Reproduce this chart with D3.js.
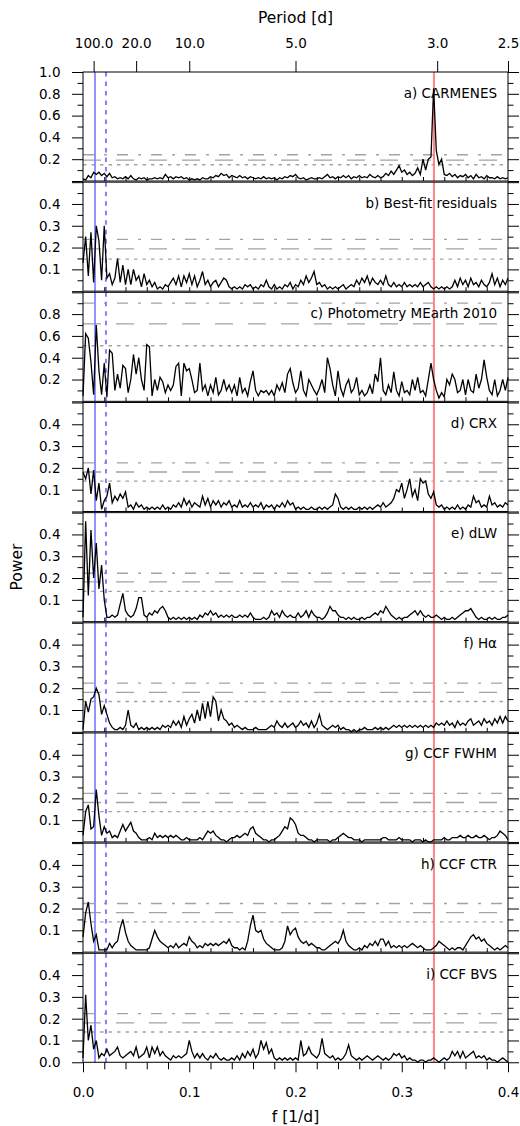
<!DOCTYPE html>
<html>
<head>
<meta charset="utf-8">
<script src="https://cdn.jsdelivr.net/npm/d3@7"></script>
<style>
  body { margin: 0; background: #fff; }
  svg { display: block; }
  text { font-family: "DejaVu Sans", sans-serif; }
  .tick text { font-size: 13.5px; fill: #000; }
</style>
</head>
<body>
<svg id="chart" width="520" height="1126"></svg>
<script>

// frequency grid of the periodograms [1/d]
const fStep = 0.0025
const freq = d3.range(161).map(i => i * fStep)

const panelLabels = ['a) CARMENES', 'b) Best-fit residuals', 'c) Photometry MEarth 2010', 'd) CRX',
                     'e) dLW', 'f) H\u03b1', 'g) CCF FWHM', 'h) CCF CTR', 'i) CCF BVS']
const panelMax = [1.0, 0.5, 1.0, 0.5, 0.5, 0.5, 0.5, 0.5, 0.5]

// false alarm levels: 10%, 1%, 0.1%
const fapLevels = [
    [0.149, 0.192, 0.241],
    [0.147, 0.194, 0.238],
    [0.51, 0.71, 0.90],
    [0.139, 0.181, 0.223],
    [0.139, 0.182, 0.222],
    [0.139, 0.181, 0.223],
    [0.139, 0.181, 0.223],
    [0.139, 0.181, 0.223],
    [0.139, 0.181, 0.223]
]

const yTickLabels = [
    [0.2, 0.4, 0.6, 0.8, 1.0],
    [0.1, 0.2, 0.3, 0.4],
    [0.2, 0.4, 0.6, 0.8],
    [0.1, 0.2, 0.3, 0.4],
    [0.1, 0.2, 0.3, 0.4],
    [0.1, 0.2, 0.3, 0.4],
    [0.1, 0.2, 0.3, 0.4],
    [0.1, 0.2, 0.3, 0.4],
    [0.0, 0.1, 0.2, 0.3, 0.4]
]

const freqTicks = [0.0, 0.1, 0.2, 0.3, 0.4]
const periodTicks = [100, 20, 10, 5, 3, 2.5]

// marked signals
const blueFreq = 0.0113
const blueDotFreq = 0.0216
const redFreq = 0.3303

const powerA = [
 0.02,0.01,0.05,0.03,0.08,0.06,0.08,0.05,0.07,0.04,
 0.07,0.03,0.04,0.02,0.03,0.02,0.04,0.02,0.05,0.02,
 0.01,0.03,0.02,0.03,0.01,0.02,0.02,0.03,0.02,0.03,
 0.02,0.06,0.03,0.04,0.02,0.04,0.03,0.04,0.02,0.03,
 0.01,0.02,0.01,0.02,0.01,0.03,0.02,0.02,0.04,0.03,
 0.05,0.04,0.07,0.05,0.06,0.03,0.05,0.04,0.03,0.05,
 0.03,0.04,0.02,0.04,0.03,0.02,0.03,0.02,0.04,0.02,
 0.03,0.02,0.03,0.01,0.03,0.02,0.04,0.03,0.05,0.04,
 0.06,0.03,0.02,0.03,0.01,0.02,0.03,0.02,0.02,0.03,
 0.02,0.04,0.06,0.03,0.04,0.02,0.04,0.03,0.05,0.03,
 0.05,0.02,0.04,0.03,0.05,0.03,0.04,0.03,0.06,0.04,
 0.03,0.05,0.03,0.04,0.07,0.05,0.09,0.06,0.10,0.14,
 0.08,0.10,0.06,0.08,0.05,0.07,0.12,0.06,0.20,0.10,
 0.20,0.22,0.85,0.28,0.15,0.20,0.06,0.05,0.07,0.04,
 0.06,0.03,0.05,0.04,0.06,0.03,0.05,0.02,0.06,0.03,
 0.04,0.02,0.05,0.03,0.03,0.02,0.04,0.02,0.03,0.02,
 0.03]

const powerB = [
 0.13,0.25,0.07,0.27,0.04,0.30,0.23,0.05,0.30,0.06,
 0.08,0.03,0.06,0.15,0.04,0.12,0.03,0.10,0.03,0.10,
 0.05,0.07,0.02,0.08,0.03,0.05,0.02,0.04,0.01,0.02,
 0.01,0.03,0.02,0.04,0.06,0.03,0.07,0.02,0.07,0.04,
 0.08,0.03,0.07,0.02,0.05,0.09,0.03,0.05,0.02,0.04,
 0.05,0.02,0.04,0.06,0.05,0.02,0.01,0.02,0.01,0.02,
 0.01,0.03,0.02,0.03,0.01,0.02,0.01,0.03,0.02,0.05,
 0.02,0.01,0.03,0.01,0.02,0.01,0.03,0.02,0.04,0.01,
 0.03,0.02,0.05,0.03,0.07,0.04,0.06,0.09,0.03,0.04,
 0.02,0.03,0.01,0.02,0.01,0.02,0.01,0.02,0.03,0.01,
 0.02,0.03,0.02,0.05,0.03,0.06,0.04,0.07,0.03,0.06,
 0.04,0.03,0.05,0.03,0.07,0.03,0.02,0.04,0.02,0.03,
 0.02,0.04,0.02,0.03,0.02,0.03,0.02,0.04,0.02,0.03,
 0.04,0.02,0.01,0.02,0.01,0.02,0.01,0.02,0.01,0.02,
 0.05,0.02,0.06,0.03,0.05,0.02,0.06,0.03,0.04,0.02,
 0.05,0.03,0.02,0.04,0.08,0.03,0.06,0.02,0.05,0.03,
 0.06]

const powerC = [
 0.05,0.62,0.58,0.36,0.06,0.70,0.28,0.06,0.35,0.04,
 0.47,0.44,0.10,0.25,0.12,0.33,0.30,0.08,0.20,0.43,
 0.25,0.40,0.20,0.10,0.52,0.50,0.05,0.20,0.10,0.22,
 0.18,0.08,0.15,0.10,0.15,0.32,0.35,0.05,0.35,0.28,
 0.30,0.20,0.08,0.10,0.35,0.10,0.15,0.05,0.15,0.08,
 0.22,0.06,0.10,0.20,0.10,0.15,0.08,0.15,0.05,0.22,
 0.08,0.12,0.05,0.18,0.28,0.10,0.05,0.10,0.08,0.10,
 0.06,0.10,0.05,0.15,0.10,0.17,0.08,0.25,0.30,0.17,
 0.08,0.12,0.28,0.10,0.05,0.20,0.15,0.10,0.06,0.12,
 0.20,0.08,0.40,0.30,0.15,0.05,0.28,0.12,0.05,0.15,
 0.20,0.08,0.12,0.22,0.06,0.10,0.05,0.08,0.15,0.07,
 0.25,0.18,0.40,0.10,0.06,0.15,0.08,0.27,0.10,0.05,
 0.18,0.08,0.10,0.06,0.20,0.10,0.22,0.08,0.10,0.05,
 0.20,0.35,0.20,0.10,0.03,0.08,0.04,0.20,0.15,0.25,
 0.20,0.08,0.10,0.20,0.06,0.20,0.10,0.08,0.25,0.12,
 0.20,0.38,0.22,0.10,0.06,0.20,0.05,0.10,0.20,0.10,
 0.22]

const powerD = [
 0.18,0.15,0.20,0.08,0.19,0.05,0.13,0.01,0.05,0.07,
 0.13,0.04,0.07,0.05,0.08,0.06,0.09,0.02,0.03,0.01,
 0.04,0.02,0.03,0.01,0.02,0.01,0.02,0.01,0.02,0.01,
 0.03,0.01,0.02,0.01,0.03,0.02,0.04,0.02,0.06,0.03,
 0.05,0.02,0.04,0.03,0.02,0.07,0.03,0.06,0.02,0.05,
 0.03,0.05,0.02,0.04,0.03,0.05,0.02,0.03,0.02,0.05,
 0.02,0.03,0.02,0.04,0.02,0.03,0.02,0.04,0.01,0.03,
 0.02,0.03,0.01,0.03,0.02,0.04,0.02,0.05,0.03,0.04,
 0.01,0.02,0.01,0.02,0.01,0.01,0.02,0.01,0.01,0.02,
 0.01,0.02,0.01,0.02,0.03,0.08,0.06,0.02,0.01,0.02,
 0.01,0.02,0.01,0.01,0.02,0.01,0.02,0.01,0.02,0.01,
 0.02,0.03,0.02,0.04,0.02,0.03,0.04,0.06,0.10,0.09,
 0.13,0.06,0.10,0.15,0.07,0.10,0.05,0.15,0.13,0.14,
 0.08,0.06,0.09,0.03,0.02,0.03,0.01,0.02,0.01,0.02,
 0.01,0.03,0.01,0.02,0.01,0.03,0.02,0.07,0.04,0.05,
 0.02,0.03,0.02,0.07,0.03,0.04,0.02,0.03,0.02,0.04,
 0.03]

const powerE = [
 0.02,0.46,0.12,0.42,0.20,0.36,0.15,0.26,0.10,0.02,
 0.02,0.03,0.02,0.03,0.08,0.13,0.05,0.03,0.02,0.03,
 0.06,0.11,0.11,0.03,0.02,0.04,0.03,0.05,0.04,0.06,
 0.07,0.05,0.02,0.01,0.02,0.01,0.02,0.01,0.02,0.01,
 0.02,0.01,0.02,0.01,0.03,0.02,0.04,0.03,0.05,0.03,
 0.04,0.02,0.03,0.02,0.03,0.02,0.03,0.02,0.02,0.03,
 0.02,0.03,0.02,0.04,0.02,0.01,0.01,0.01,0.02,0.01,
 0.02,0.05,0.03,0.04,0.02,0.05,0.03,0.02,0.03,0.02,
 0.02,0.04,0.02,0.03,0.05,0.02,0.05,0.03,0.02,0.02,
 0.01,0.02,0.04,0.07,0.05,0.05,0.03,0.02,0.02,0.01,
 0.02,0.01,0.02,0.01,0.01,0.02,0.01,0.02,0.02,0.03,
 0.04,0.03,0.05,0.04,0.07,0.05,0.03,0.02,0.01,0.02,
 0.01,0.02,0.02,0.03,0.04,0.05,0.03,0.05,0.03,0.02,
 0.03,0.02,0.02,0.03,0.02,0.01,0.02,0.01,0.01,0.02,
 0.01,0.02,0.03,0.04,0.05,0.05,0.06,0.04,0.02,0.01,
 0.02,0.01,0.01,0.02,0.01,0.02,0.01,0.01,0.02,0.02,
 0.03]

const powerF = [
 0.01,0.14,0.09,0.15,0.16,0.20,0.17,0.08,0.12,0.08,
 0.04,0.02,0.01,0.01,0.02,0.01,0.03,0.10,0.03,0.02,
 0.04,0.01,0.02,0.01,0.02,0.01,0.02,0.01,0.02,0.01,
 0.03,0.02,0.03,0.02,0.05,0.03,0.05,0.02,0.07,0.03,
 0.06,0.08,0.04,0.10,0.05,0.13,0.06,0.14,0.07,0.16,
 0.14,0.05,0.10,0.06,0.05,0.03,0.04,0.02,0.03,0.02,
 0.01,0.02,0.01,0.01,0.01,0.02,0.01,0.01,0.01,0.01,
 0.02,0.03,0.02,0.05,0.03,0.02,0.04,0.02,0.03,0.04,
 0.02,0.03,0.05,0.03,0.04,0.02,0.05,0.02,0.04,0.08,
 0.03,0.02,0.01,0.02,0.03,0.02,0.03,0.01,0.02,0.01,
 0.01,0.00,0.01,0.00,0.01,0.01,0.02,0.01,0.01,0.01,
 0.02,0.01,0.02,0.01,0.02,0.01,0.02,0.03,0.02,0.03,
 0.02,0.03,0.02,0.03,0.02,0.03,0.02,0.03,0.02,0.03,
 0.02,0.03,0.02,0.04,0.03,0.04,0.03,0.05,0.03,0.04,
 0.02,0.05,0.03,0.04,0.03,0.05,0.06,0.03,0.04,0.05,
 0.03,0.06,0.04,0.05,0.03,0.06,0.04,0.07,0.04,0.07,
 0.05]

const powerG = [
 0.03,0.14,0.17,0.06,0.07,0.24,0.12,0.03,0.07,0.04,
 0.05,0.02,0.03,0.02,0.05,0.08,0.05,0.07,0.09,0.05,
 0.04,0.02,0.01,0.01,0.01,0.02,0.01,0.04,0.02,0.03,
 0.02,0.03,0.02,0.03,0.02,0.03,0.02,0.01,0.01,0.02,
 0.01,0.01,0.01,0.01,0.02,0.01,0.03,0.05,0.04,0.05,
 0.03,0.02,0.01,0.01,0.00,0.01,0.02,0.02,0.03,0.02,
 0.03,0.04,0.03,0.06,0.07,0.04,0.03,0.02,0.01,0.01,
 0.00,0.01,0.01,0.02,0.03,0.05,0.07,0.06,0.11,0.10,
 0.08,0.04,0.03,0.03,0.02,0.01,0.01,0.00,0.01,0.01,
 0.01,0.01,0.01,0.00,0.01,0.01,0.02,0.03,0.04,0.03,
 0.02,0.02,0.01,0.01,0.01,0.00,0.01,0.01,0.01,0.01,
 0.01,0.01,0.01,0.02,0.02,0.01,0.01,0.01,0.01,0.02,
 0.01,0.01,0.01,0.01,0.00,0.01,0.01,0.01,0.00,0.01,
 0.00,0.00,0.01,0.01,0.01,0.01,0.02,0.01,0.01,0.02,
 0.02,0.02,0.03,0.02,0.02,0.03,0.02,0.02,0.03,0.02,
 0.02,0.03,0.02,0.01,0.02,0.02,0.03,0.05,0.04,0.03,
 0.01]

const powerH = [
 0.07,0.18,0.23,0.13,0.05,0.08,0.01,0.01,0.01,0.01,
 0.04,0.02,0.04,0.05,0.11,0.15,0.09,0.05,0.03,0.02,
 0.01,0.01,0.01,0.01,0.01,0.02,0.06,0.10,0.07,0.05,
 0.04,0.03,0.02,0.03,0.02,0.04,0.02,0.03,0.04,0.03,
 0.07,0.05,0.04,0.02,0.03,0.02,0.04,0.03,0.04,0.03,
 0.04,0.03,0.04,0.05,0.04,0.06,0.03,0.02,0.02,0.01,
 0.02,0.01,0.05,0.12,0.17,0.10,0.09,0.10,0.06,0.04,
 0.03,0.02,0.01,0.01,0.01,0.02,0.05,0.12,0.08,0.10,
 0.11,0.07,0.05,0.04,0.05,0.03,0.04,0.03,0.02,0.02,
 0.01,0.01,0.02,0.03,0.04,0.05,0.04,0.06,0.10,0.05,
 0.03,0.02,0.01,0.01,0.02,0.01,0.03,0.02,0.04,0.03,
 0.05,0.03,0.06,0.06,0.03,0.05,0.02,0.03,0.02,0.03,
 0.02,0.03,0.02,0.03,0.04,0.03,0.02,0.03,0.02,0.01,
 0.01,0.01,0.02,0.03,0.05,0.04,0.03,0.02,0.01,0.02,
 0.01,0.02,0.02,0.01,0.03,0.05,0.07,0.08,0.06,0.07,
 0.05,0.06,0.04,0.03,0.02,0.01,0.02,0.01,0.02,0.03,
 0.02]

const powerI = [
 0.02,0.31,0.10,0.17,0.06,0.10,0.02,0.04,0.03,0.06,
 0.03,0.04,0.05,0.07,0.03,0.02,0.03,0.04,0.05,0.03,
 0.07,0.02,0.03,0.04,0.07,0.02,0.07,0.04,0.07,0.03,
 0.05,0.03,0.02,0.01,0.03,0.02,0.03,0.02,0.03,0.04,
 0.10,0.05,0.02,0.04,0.02,0.04,0.02,0.01,0.03,0.02,
 0.04,0.02,0.01,0.02,0.01,0.01,0.02,0.01,0.03,0.01,
 0.04,0.02,0.05,0.03,0.06,0.02,0.04,0.10,0.06,0.09,
 0.04,0.06,0.02,0.01,0.02,0.01,0.02,0.01,0.02,0.01,
 0.02,0.01,0.10,0.03,0.04,0.07,0.04,0.03,0.02,0.04,
 0.11,0.04,0.03,0.02,0.03,0.01,0.02,0.01,0.02,0.04,
 0.08,0.03,0.02,0.01,0.02,0.01,0.02,0.03,0.02,0.01,
 0.02,0.03,0.02,0.01,0.02,0.01,0.02,0.04,0.03,0.04,
 0.02,0.03,0.01,0.02,0.01,0.01,0.00,0.01,0.01,0.00,
 0.01,0.01,0.02,0.01,0.00,0.01,0.02,0.01,0.02,0.05,
 0.03,0.05,0.02,0.05,0.02,0.03,0.04,0.05,0.02,0.03,
 0.02,0.03,0.01,0.02,0.01,0.01,0.00,0.01,0.02,0.01,
 0.00]

const powers = [powerA, powerB, powerC, powerD, powerE, powerF, powerG, powerH, powerI]

// layout
const top0 = 72
const panelStep = 110.16
const panelH = 109
const xLeft = 83, xRight = 508
const bottomY = top0 + 8 * panelStep + panelH

const fapDash = ['3.5,5', '18,15', '11,10,3,10']

const svg = d3.select('#chart')
const x = d3.scaleLinear().domain([0, 0.4]).range([xLeft, xRight])

const noDomain = g => g.select('.domain').remove()

panelLabels.forEach((label, k) => {
    const top = top0 + k * panelStep
    const ymax = panelMax[k]
    const y = d3.scaleLinear().domain([0, ymax]).range([top + panelH, top])
    const g = svg.append('g')

    // false alarm levels
    fapLevels[k].forEach((lvl, j) => {
        g.append('line')
            .attr('x1', x(0)).attr('x2', x(0.4))
            .attr('y1', y(lvl)).attr('y2', y(lvl))
            .style('stroke', '#a3a3a3')
            .style('stroke-width', 1.3)
            .style('stroke-dasharray', fapDash[j])
    })

    // marked frequencies
    g.append('line')
        .attr('x1', x(blueFreq)).attr('x2', x(blueFreq))
        .attr('y1', top).attr('y2', top + panelH)
        .style('stroke', '#8080ff').style('stroke-width', 1.7)
    g.append('line')
        .attr('x1', x(blueDotFreq)).attr('x2', x(blueDotFreq))
        .attr('y1', top).attr('y2', top + panelH)
        .style('stroke', '#8080ff').style('stroke-width', 2)
        .style('stroke-dasharray', '4.5,5')
    g.append('line')
        .attr('x1', x(redFreq)).attr('x2', x(redFreq))
        .attr('y1', top).attr('y2', top + panelH)
        .style('stroke', '#ff8585').style('stroke-width', 2)

    // periodogram
    const line = d3.line()
        .x((d, i) => x(freq[i]))
        .y(d => y(d))
    g.append('path')
        .datum(powers[k])
        .attr('d', line)
        .style('fill', 'none')
        .style('stroke', '#000')
        .style('stroke-width', 1.3)

    // frame
    g.append('rect')
        .attr('x', xLeft).attr('y', top)
        .attr('width', xRight - xLeft).attr('height', panelH)
        .style('fill', 'none').style('stroke', '#000').style('stroke-width', 1)

    // y ticks
    const step = ymax === 1.0 ? 0.2 : 0.1
    const majors = d3.range(0, ymax + 1e-6, step)
    const minors = d3.range(step / 2, ymax, step)
    const labels = yTickLabels[k]
    const fmt = v => labels.some(l => Math.abs(l - v) < 1e-6) ? d3.format('.1f')(v) : ''

    g.append('g').attr('transform', `translate(${xLeft},0)`)
        .call(d3.axisLeft(y).tickValues(majors).tickSize(11).tickPadding(11.5).tickFormat(fmt))
        .call(noDomain)
    g.append('g').attr('transform', `translate(${xLeft},0)`)
        .call(d3.axisLeft(y).tickValues(minors).tickSize(5.5).tickFormat(''))
        .call(noDomain)
    g.append('g').attr('transform', `translate(${xRight},0)`)
        .call(d3.axisRight(y).tickValues(majors).tickSize(11).tickFormat(''))
        .call(noDomain)
    g.append('g').attr('transform', `translate(${xRight},0)`)
        .call(d3.axisRight(y).tickValues(minors).tickSize(5.5).tickFormat(''))
        .call(noDomain)

    // x ticks
    if (k < 8) {
        g.append('g').attr('transform', `translate(0,${top + panelH})`)
            .call(d3.axisBottom(x).tickValues(d3.range(0.02, 0.39, 0.02)).tickSize(-4).tickFormat(''))
            .call(noDomain)
    } else {
        g.append('g').attr('transform', `translate(0,${top + panelH})`)
            .call(d3.axisBottom(x).tickValues(freqTicks).tickSize(10).tickPadding(15).tickFormat(d3.format('.1f')))
            .call(noDomain)
        g.append('g').attr('transform', `translate(0,${top + panelH})`)
            .call(d3.axisBottom(x).tickValues(d3.range(0.02, 0.39, 0.02).filter(v => Math.abs(v * 10 - Math.round(v * 10)) > 1e-6))
                .tickSize(7).tickFormat(''))
            .call(noDomain)
    }

    g.append('text')
        .attr('x', 497)
        .attr('y', top + 25.5)
        .attr('text-anchor', 'end')
        .style('font-size', '13.5px')
        .text(label)
})

// period axis on top
svg.append('g').attr('transform', `translate(0,${top0})`)
    .call(d3.axisTop(x).tickValues(periodTicks.map(p => 1 / p)).tickSize(11).tickPadding(13.3)
        .tickFormat((d, i) => d3.format('.1f')(periodTicks[i])))
    .call(noDomain)

svg.append('text')
    .attr('x', (xLeft + xRight) / 2).attr('y', 22.5)
    .attr('text-anchor', 'middle')
    .style('font-size', '15.5px')
    .text('Period [d]')

svg.append('text')
    .attr('x', (xLeft + xRight) / 2).attr('y', 1121.5)
    .attr('text-anchor', 'middle')
    .style('font-size', '15.5px')
    .text('f [1/d]')

svg.append('text')
    .attr('transform', `translate(21.5,${(top0 + bottomY) / 2}) rotate(-90)`)
    .attr('text-anchor', 'middle')
    .style('font-size', '15.5px')
    .text('Power')

</script>
</body>
</html>
